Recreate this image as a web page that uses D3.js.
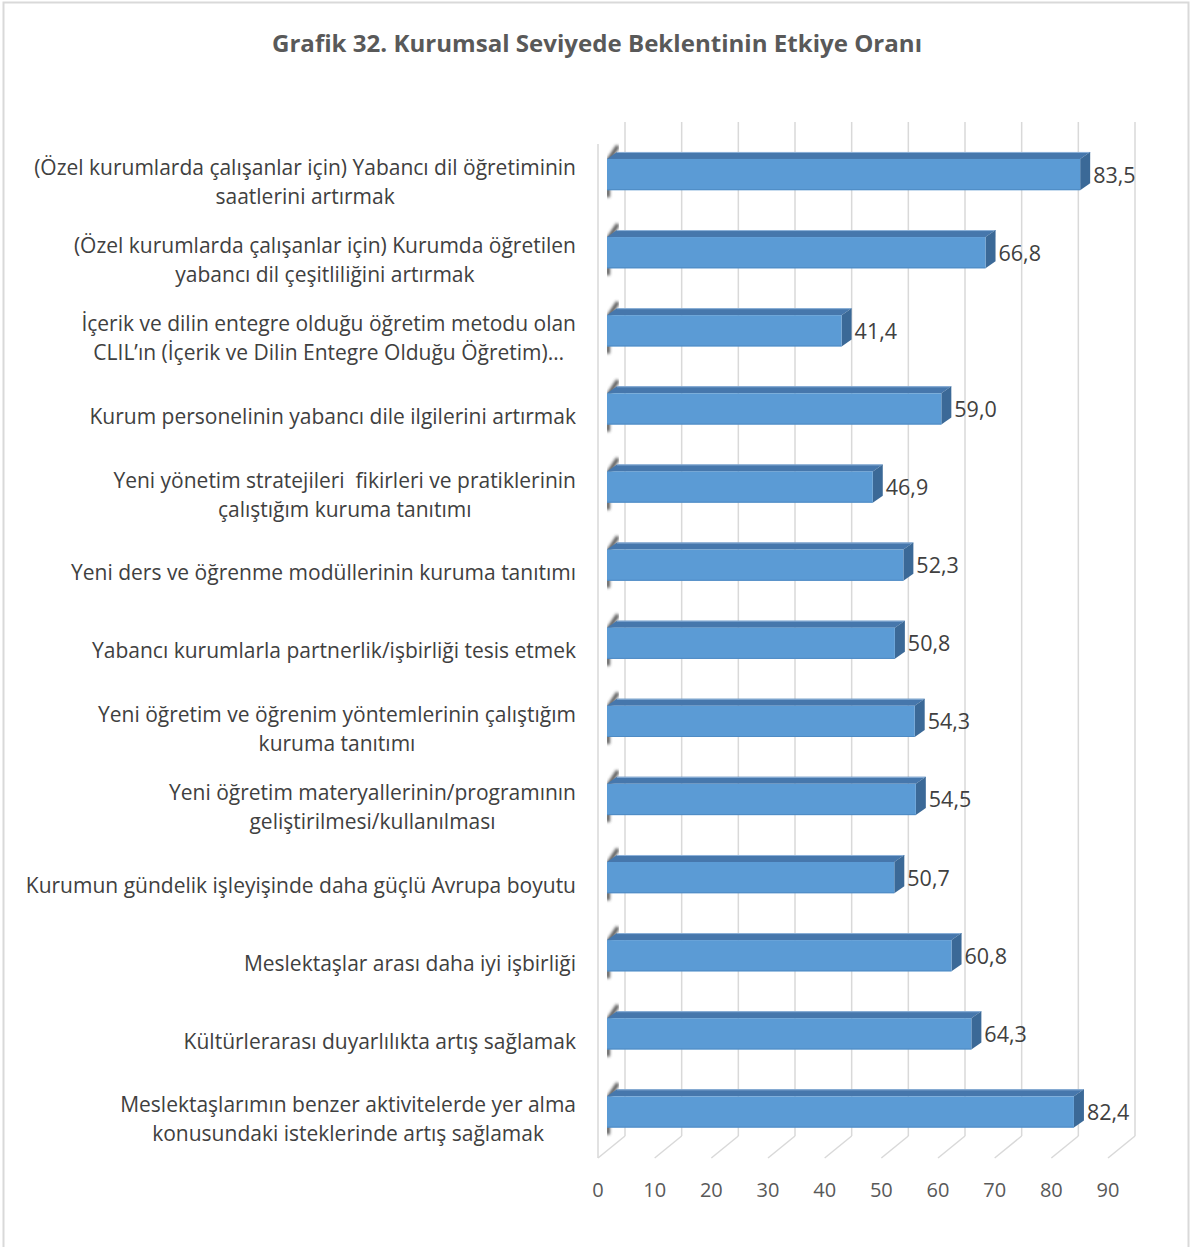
<!DOCTYPE html>
<html><head><meta charset="utf-8">
<script src="https://cdn.jsdelivr.net/npm/d3@7"></script>
<style>body{margin:0;background:#fff;} text{font-family:"Open Sans",Lato,sans-serif;white-space:pre;}</style>
</head><body>
<svg id="chart" width="1193" height="1247"></svg>
<script>
const title = "Grafik 32. Kurumsal Seviyede Beklentinin Etkiye Oranı";
const categories = [
  ["(Özel kurumlarda çalışanlar için) Yabancı dil öğretiminin", "saatlerini artırmak"],
  ["(Özel kurumlarda çalışanlar için) Kurumda öğretilen", "yabancı dil çeşitliliğini artırmak"],
  ["İçerik ve dilin entegre olduğu öğretim metodu olan", "CLIL’ın (İçerik ve Dilin Entegre Olduğu Öğretim)…"],
  ["Kurum personelinin yabancı dile ilgilerini artırmak"],
  ["Yeni yönetim stratejileri  fikirleri ve pratiklerinin", "çalıştığım kuruma tanıtımı"],
  ["Yeni ders ve öğrenme modüllerinin kuruma tanıtımı"],
  ["Yabancı kurumlarla partnerlik/işbirliği tesis etmek"],
  ["Yeni öğretim ve öğrenim yöntemlerinin çalıştığım", "kuruma tanıtımı"],
  ["Yeni öğretim materyallerinin/programının", "geliştirilmesi/kullanılması"],
  ["Kurumun gündelik işleyişinde daha güçlü Avrupa boyutu"],
  ["Meslektaşlar arası daha iyi işbirliği"],
  ["Kültürlerarası duyarlılıkta artış sağlamak"],
  ["Meslektaşlarımın benzer aktivitelerde yer alma", "konusundaki isteklerinde artış sağlamak"]
];
const values = [83.5, 66.8, 41.4, 59.0, 46.9, 52.3, 50.8, 54.3, 54.5, 50.7, 60.8, 64.3, 82.4];
const ticks = [0, 10, 20, 30, 40, 50, 60, 70, 80, 90];

const svg = d3.select("#chart");

svg.append("rect").attr("x", 3.5).attr("y", 2.5).attr("width", 1185).attr("height", 1260)
  .attr("fill", "#fff").attr("stroke", "#D9D9D9").attr("stroke-width", 2);

svg.append("text").attr("x", 597).attr("y", 52).attr("text-anchor", "middle")
  .attr("font-size", 23).attr("font-weight", "bold").attr("fill", "#595959")
  .attr("textLength", 650).attr("lengthAdjust", "spacingAndGlyphs").text(title);

const frontX0 = 598, barX0 = 607, backX0 = 625;
const frontFloorY = 1158, backFloorY = 1136, wallTop = 122;
const x = d3.scaleLinear().domain([0, 90]).range([0, 510]);
const idx = d3.range(categories.length);
const y = d3.scaleBand().domain(idx).range([135.5, 1151]).paddingInner(0.6).paddingOuter(0.3);
const bh = y.bandwidth();
const ddx = 10, ddy = -7;

const grid = svg.append("g").attr("stroke", "#D9D9D9").attr("stroke-width", 1.5).attr("fill", "none");
grid.append("line").attr("x1", frontX0).attr("x2", frontX0).attr("y1", wallTop + 22).attr("y2", frontFloorY);
ticks.forEach(t => {
  grid.append("line").attr("x1", backX0 + x(t)).attr("x2", backX0 + x(t)).attr("y1", wallTop).attr("y2", backFloorY);
  grid.append("line").attr("x1", frontX0 + x(t)).attr("x2", backX0 + x(t)).attr("y1", frontFloorY).attr("y2", backFloorY);
});

svg.append("g").selectAll("text").data(ticks).join("text")
  .attr("x", d => frontX0 + x(d)).attr("y", 1197).attr("text-anchor", "middle")
  .attr("font-size", 20).attr("fill", "#595959").text(d => d);

const defs = svg.append("defs");
defs.append("filter").attr("id", "blur").append("feGaussianBlur").attr("stdDeviation", 1.6);

const bars = svg.append("g");
idx.forEach(i => {
  const v = values[i];
  const top = y(i), w = x(v);
  const g = bars.append("g");
  g.append("path")
    .attr("d", `M${barX0 + 1},${top + bh + 7} L${barX0 + 1},${top + 2} L${barX0 + 11},${top - 13}`)
    .attr("stroke", "#3a3a3a").attr("stroke-width", 4).attr("fill", "none")
    .attr("filter", "url(#blur)").attr("opacity", 0.85);
  g.append("path")
    .attr("d", `M${barX0},${top} L${barX0 + w},${top} L${barX0 + w + ddx},${top + ddy} L${barX0 + ddx},${top + ddy} Z`)
    .attr("fill", "#4677AC");
  g.append("line").attr("x1", barX0 + ddx).attr("x2", barX0 + w + ddx).attr("y1", top + ddy + 0.5).attr("y2", top + ddy + 0.5)
    .attr("stroke", "#8FB3DA").attr("stroke-width", 1);
  g.append("path")
    .attr("d", `M${barX0 + w},${top} L${barX0 + w + ddx},${top + ddy} L${barX0 + w + ddx},${top + bh + ddy} L${barX0 + w},${top + bh} Z`)
    .attr("fill", "#3B6997");
  g.append("rect").attr("x", barX0).attr("y", top).attr("width", w).attr("height", bh)
    .attr("fill", "#5B9BD5");
  g.append("line").attr("x1", barX0).attr("x2", barX0 + w).attr("y1", top + bh - 0.5).attr("y2", top + bh - 0.5)
    .attr("stroke", "#4F8BC4").attr("stroke-width", 1);
  g.append("text").attr("x", barX0 + w + 13).attr("y", top + bh / 2 + 8)
    .attr("font-size", 21.5).attr("fill", "#404040").text(d3.format(".1f")(v).replace(".", ","));
});

const labRight = 576, lineH = 29;
const labels = svg.append("g").attr("font-size", 21).attr("fill", "#404040");
idx.forEach(i => {
  const lines = categories[i];
  const cy = y(i) + bh / 2 + 8;
  const g = labels.append("g");
  const ts = lines.map((l, k) => g.append("text")
    .attr("y", cy + (k - (lines.length - 1) / 2) * lineH + 7).text(l));
  const wMax = d3.max(ts, t => t.node().getComputedTextLength());
  ts.forEach(t => t.attr("x", labRight - wMax / 2).attr("text-anchor", "middle"));
});
</script>
</body></html>
